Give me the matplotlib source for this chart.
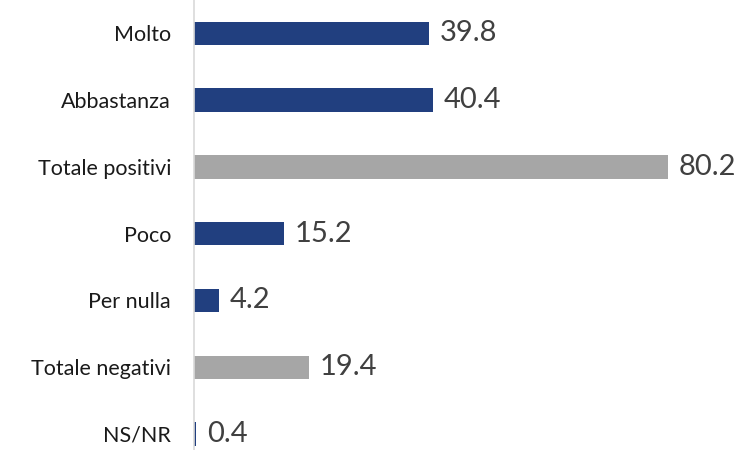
import matplotlib.pyplot as plt

categories = ["Molto", "Abbastanza", "Totale positivi", "Poco", "Per nulla",
              "Totale negativi", "NS/NR"]
values = [39.8, 40.4, 80.2, 15.2, 4.2, 19.4, 0.4]
is_total = [False, False, True, False, False, True, False]

BLUE = "#213F7F"
GRAY = "#A6A6A6"

plt.rcParams["font.family"] = ["Lato", "DejaVu Sans"]

fig = plt.figure(figsize=(7.42, 4.5), dpi=100)
ax = fig.add_axes([194 / 742, 0, 1 - 194 / 742, 1])

colors = [GRAY if t else BLUE for t in is_total]
y = list(range(len(categories)))
ax.barh(y, values, height=0.35, color=colors)

for yi, v in zip(y, values):
    ax.text(v + 1.85, yi, f"{v:.1f}", va="center", ha="left",
            fontsize=21, color="#404040")

ax.set_yticks(y)
ax.set_yticklabels(categories, fontsize=15.5, color="#1A1A1A")
ax.tick_params(axis="y", length=0, pad=16.5)
ax.set_xticks([])
ax.set_xlim(0, (742 - 194) / 5.91)
ax.set_ylim(6.24, -0.5)

for side in ("top", "right", "bottom"):
    ax.spines[side].set_visible(False)
ax.spines["left"].set_color("#D9D9D9")
ax.spines["left"].set_linewidth(1.2)

fig.savefig("out.png", dpi=100)
